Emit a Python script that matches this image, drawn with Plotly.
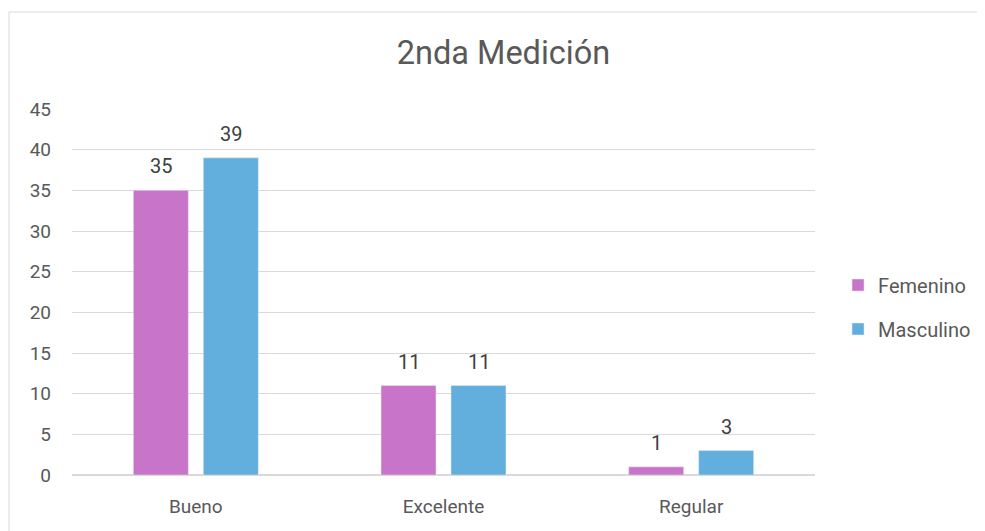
import plotly.graph_objects as go

# Chart data
categories = ["Bueno", "Excelente", "Regular"]
femenino = [35, 11, 1]
masculino = [39, 11, 3]

# the page body adds an 8px margin, so the figure is sized to fit inside it
W, H = 977, 523
L, R, T, B = 64, 170, 101, 56
pw, ph = W - L - R, H - T - B

fig = go.Figure()

series = [("Femenino", femenino, "#C874C8", -35), ("Masculino", masculino, "#62AEDC", 35)]
for name, vals, color, dx in series:
    fig.add_trace(go.Bar(
        name=name, x=categories, y=vals,
        marker_color=color, legendgroup=name,
    ))
    # value labels sit a bit above each bar, like the original
    for cat, v in zip(categories, vals):
        fig.add_annotation(
            x=cat, y=v, text=str(v), showarrow=False,
            xshift=dx, yshift=24, yanchor="middle",
            font=dict(size=20, color="#404040"),
        )

# outer chart border
fig.add_shape(
    type="rect", xref="paper", yref="paper",
    x0=(1 - L) / pw, x1=(W + 20 - L) / pw,
    y0=-(B + 20) / ph, y1=1 + (T - 4) / ph,
    line=dict(color="#D9D9D9", width=1), layer="below",
)

fig.update_layout(
    width=W, height=H,
    margin=dict(l=L, r=R, t=T, b=B, autoexpand=False),
    paper_bgcolor="white", plot_bgcolor="white",
    font=dict(family="Roboto, Open Sans, sans-serif", color="#595959"),
    title=dict(text="2nda Medición", x=495.5 / W, xanchor="center",
               y=1 - 45 / H, yanchor="middle",
               font=dict(size=32.5, color="#595959")),
    barmode="group", bargap=0.435, bargroupgap=0.214,
    showlegend=True,
    legend=dict(x=1.031, y=0.459, xanchor="left", yanchor="middle",
                font=dict(size=20, color="#595959"), tracegroupgap=15),
    xaxis=dict(showline=False, ticks="", ticklabelstandoff=18,
               tickfont=dict(size=19, color="#595959")),
    yaxis=dict(range=[0, 45], dtick=5, gridcolor="#D9D9D9", gridwidth=1,
               zeroline=True, zerolinecolor="#D9D9D9", showline=False,
               ticks="", ticklabelstandoff=20,
               tickfont=dict(size=19, color="#595959")),
)

fig.write_html("out.html")
